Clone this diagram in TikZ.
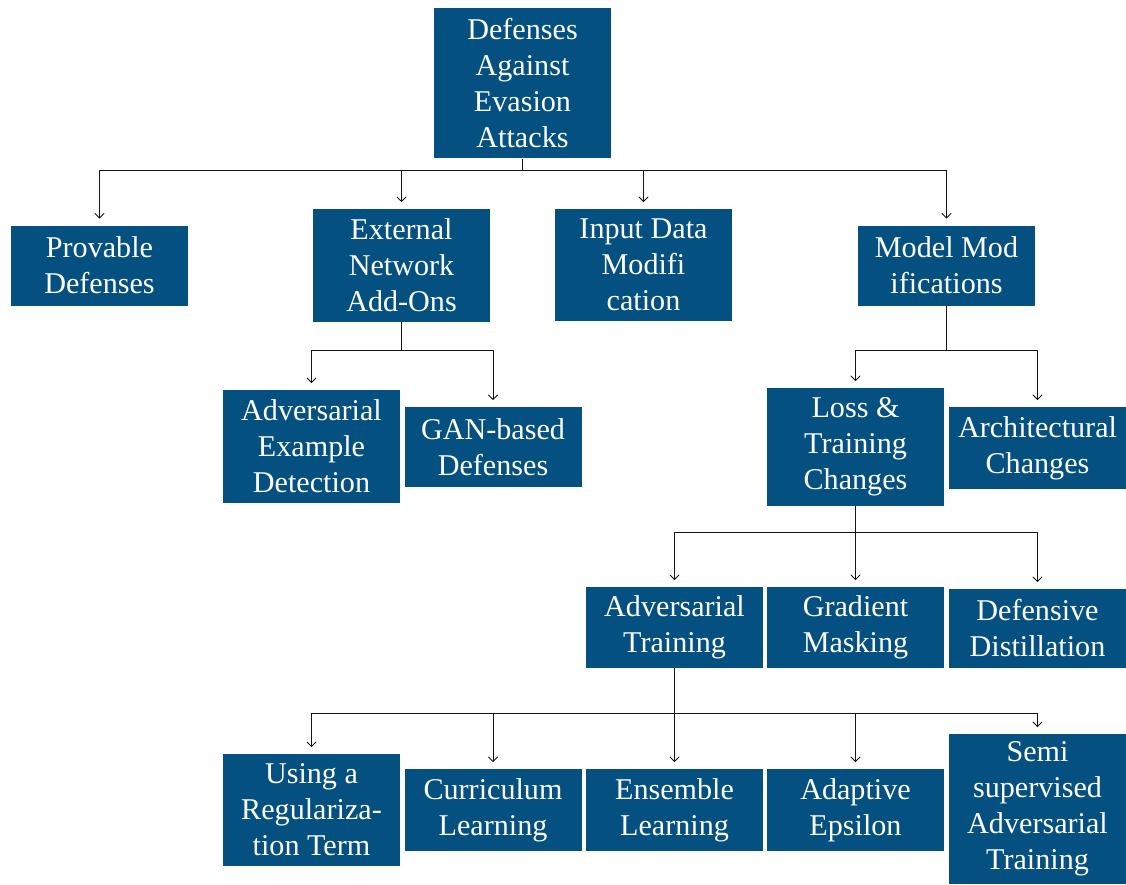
\documentclass[tikz,border=0pt]{standalone}
\usepackage{fontspec}
\setmainfont{Liberation Serif}
\usetikzlibrary{arrows.meta}
\definecolor{boxblue}{RGB}{4,81,129}
\definecolor{linegray}{RGB}{20,20,20}
\begin{document}
\begin{tikzpicture}[x=0.75pt,y=-0.75pt,
  box/.style={fill=boxblue,text=white,align=center,minimum width=132.75pt,inner sep=0pt,
    font=\fontsize{22.6}{27}\selectfont},
  hh/.style={minimum height=#1*0.75pt},
  edge/.style={draw=linegray,line width=0.6pt,-{Straight Barb[length=3.5pt,width=7pt]},shorten >=5pt}]
\useasboundingbox (0,0) rectangle (1126,884);
% nodes
\node[box,hh=150] (root) at (522.5,83.5) {Defenses\\Against\\Evasion\\Attacks};
\node[box,hh=80] (prov) at (99.5,265.5) {Provable\\Defenses};
\node[box,hh=113] (ext) at (401.5,265.5) {External\\Network\\Add-Ons};
\node[box,hh=112] (inp) at (643.5,265) {Input Data\\Modifi\\cation};
\node[box,hh=80] (model) at (946.5,265.5) {Model Mod\\ifications};
\node[box,hh=113] (aed) at (311.5,446.5) {Adversarial\\Example\\Detection};
\node[box,hh=80] (gan) at (493,447) {GAN-based\\Defenses};
\node[box,hh=118] (loss) at (855.5,447) {Loss \&\\Training\\Changes};
\node[box,hh=82] (arch) at (1037.5,448) {Architectural\\Changes};
\node[box,hh=81] (at) at (674.5,627.5) {Adversarial\\Training};
\node[box,hh=81] (gm) at (855.5,627.5) {Gradient\\Masking};
\node[box,hh=79] (dd) at (1037.5,628.5) {Defensive\\Distillation};
\node[box,hh=112] (reg) at (311.5,810) {Using a\\Regulariza-\\tion Term};
\node[box,hh=82] (cur) at (493,810) {Curriculum\\Learning};
\node[box,hh=82] (ens) at (674.5,810) {Ensemble\\Learning};
\node[box,hh=82] (ada) at (855.5,810) {Adaptive\\Epsilon};
\node[box,hh=150] (semi) at (1037.5,809) {Semi\\supervised\\Adversarial\\Training};
% junctions
\coordinate (j0) at (522.5,170);
\coordinate (j1) at (401.5,350);
\coordinate (j2) at (946.5,350);
\coordinate (j3) at (855.5,532);
\coordinate (j4) at (674.5,713);
% edges
\foreach \c in {prov,ext,inp,model} \draw[edge] (root.south) -- (j0) -| (\c.north);
\foreach \c in {aed,gan} \draw[edge] (ext.south) -- (j1) -| (\c.north);
\foreach \c in {loss,arch} \draw[edge] (model.south) -- (j2) -| (\c.north);
\foreach \c in {at,gm,dd} \draw[edge] (loss.south) -- (j3) -| (\c.north);
\foreach \c in {reg,cur,ens,ada,semi} \draw[edge] (at.south) -- (j4) -| (\c.north);
\end{tikzpicture}
\end{document}
